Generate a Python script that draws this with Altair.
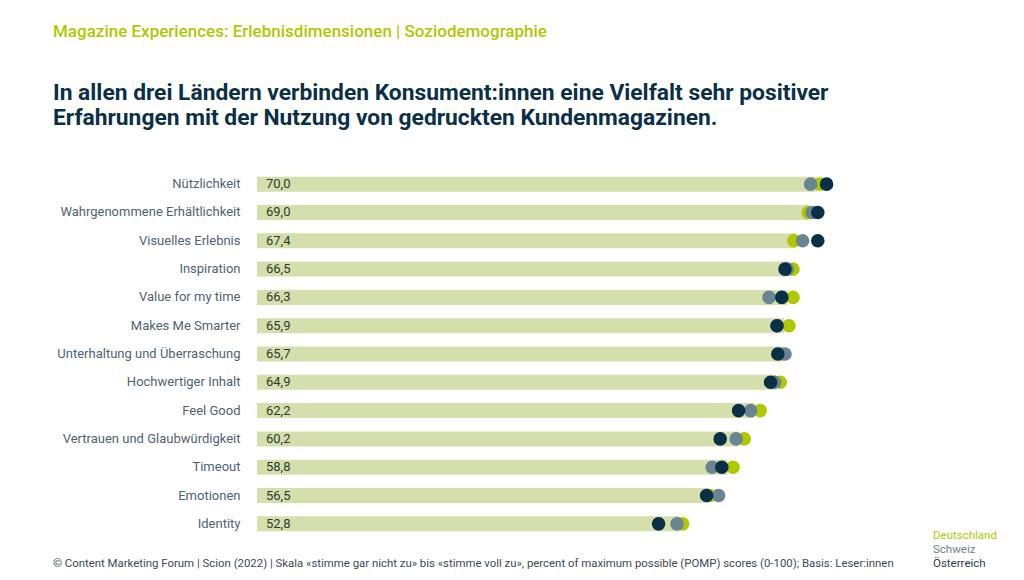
import altair as alt
import pandas as pd

kategorien = [
    "Nützlichkeit", "Wahrgenommene Erhältlichkeit", "Visuelles Erlebnis",
    "Inspiration", "Value for my time", "Makes Me Smarter",
    "Unterhaltung und Überraschung", "Hochwertiger Inhalt", "Feel Good",
    "Vertrauen und Glaubwürdigkeit", "Timeout", "Emotionen", "Identity",
]
gesamt = [70.0, 69.0, 67.4, 66.5, 66.3, 65.9, 65.7, 64.9, 62.2, 60.2, 58.8, 56.5, 52.8]
deutschland = [70.4, 68.9, 67.1, 67.0, 67.0, 66.5, 65.6, 65.4, 62.9, 60.9, 59.5, 56.6, 53.2]
schweiz = [69.2, 69.4, 68.2, 66.3, 64.0, 65.0, 66.0, 64.7, 61.7, 59.9, 56.9, 57.7, 52.5]
oesterreich = [71.2, 70.1, 70.1, 66.0, 65.6, 65.0, 65.1, 64.2, 60.2, 57.9, 58.1, 56.2, 50.2]

laender = ["Deutschland", "Schweiz", "Österreich"]
farben = ["#afc800", "#6a8592", "#0a3045"]

ueberschrift = "Magazine Experiences: Erlebnisdimensionen | Soziodemographie"
titel = [
    "In allen drei Ländern verbinden Konsument:innen eine Vielfalt sehr positiver",
    "Erfahrungen mit der Nutzung von gedruckten Kundenmagazinen.",
]
quelle = ("© Content Marketing Forum | Scion (2022) | Skala «stimme gar nicht zu» bis "
          "«stimme voll zu», percent of maximum possible (POMP) scores (0-100); Basis: Leser:innen")

FONT = "Roboto, sans-serif"

balken_df = pd.DataFrame({
    "Kategorie": kategorien,
    "Wert": gesamt,
    "Label": [f"{v:.1f}".replace(".", ",") for v in gesamt],
})

punkte_df = pd.concat([
    pd.DataFrame({"Kategorie": kategorien, "Wert": werte, "Land": land})
    for land, werte in zip(laender, [deutschland, schweiz, oesterreich])
], ignore_index=True)

y_enc = alt.Y(
    "Kategorie:N", sort=kategorien, title=None,
    axis=alt.Axis(labelAlign="right", labelPadding=17, ticks=False, domain=False,
                  labelFontSize=13, labelColor="#4e6473", labelFont=FONT,
                  labelLimit=300),
)
x_skala = alt.Scale(domain=[0, 90], nice=False)

balken = (
    alt.Chart(balken_df)
    .mark_bar(size=15, color="#d5dfab")
    .encode(x=alt.X("Wert:Q", scale=x_skala, axis=None), y=y_enc)
)

werte_text = (
    alt.Chart(balken_df)
    .mark_text(align="left", dx=9, fontSize=13, color="#2c3a33", font=FONT)
    .encode(x=alt.datum(0), y=alt.Y("Kategorie:N", sort=kategorien), text="Label:N")
)

punkte = (
    alt.Chart(punkte_df)
    .mark_circle(size=185, opacity=1)
    .encode(
        x=alt.X("Wert:Q", scale=x_skala),
        y=alt.Y("Kategorie:N", sort=kategorien),
        color=alt.Color("Land:N", scale=alt.Scale(domain=laender, range=farben), legend=None),
    )
)

def textzeile(text, x, y, size, color, weight="normal", baseline="middle"):
    return (
        alt.Chart(pd.DataFrame({"t": [0]}))
        .mark_text(text=text, align="left", baseline=baseline, fontSize=size,
                   color=color, fontWeight=weight, font=FONT, lineHeight=25)
        .encode(x=alt.value(x), y=alt.value(y))
    )

texte = [
    textzeile(ueberschrift, -204, -138, 17, "#afc800", weight=500),
    textzeile(titel, -204, -70, 22.8, "#0a3045", weight="bold", baseline="alphabetic"),
    textzeile(quelle, -204, 394, 11.4, "#3b4a55"),
]
for i, (land, farbe) in enumerate(zip(laender, farben)):
    texte.append(textzeile(land, 676, 366 + 14 * i, 11.5, farbe if i < 2 else "#2f3b45"))

chart = (
    alt.layer(balken, werte_text, punkte, *texte)
    .properties(
        width=720, height=368,
        autosize=alt.AutoSizeParams(type="none"),
        padding={"left": 249, "top": 162, "right": 30, "bottom": 40},
    )
    .configure_view(stroke=None)
)

chart.save("out.html", embed_options={"renderer": "svg", "actions": False})
